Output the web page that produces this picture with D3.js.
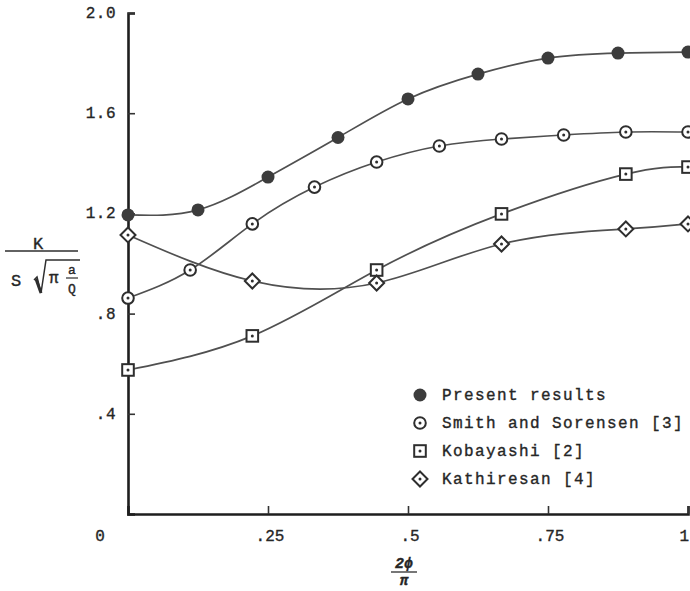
<!DOCTYPE html>
<html>
<head>
<meta charset="utf-8">
<script src="https://cdn.jsdelivr.net/npm/d3@7"></script>
<style>
  body { margin: 0; background: #fff; }
  text { font-family: "Liberation Mono", "DejaVu Sans Mono", monospace; fill: #262626; stroke: #262626; stroke-width: 0.35; }
</style>
</head>
<body>
<script>
// values
const presentX = [0, 0.125, 0.25, 0.375, 0.5, 0.625, 0.75, 0.875, 1];
const presentY = [1.194, 1.214, 1.345, 1.503, 1.657, 1.756, 1.82, 1.840, 1.844];

const smithX = [0, 0.111, 0.222, 0.333, 0.444, 0.556, 0.667, 0.778, 0.889, 1];
const smithY = [0.862, 0.974, 1.158, 1.305, 1.405, 1.469, 1.497, 1.513, 1.525, 1.525];

const kobaX = [0, 0.222, 0.444, 0.667, 0.889, 1];
const kobaY = [0.575, 0.711, 0.974, 1.198, 1.357, 1.385];

const kathX = [0, 0.222, 0.444, 0.667, 0.889, 1];
const kathY = [1.114, 0.930, 0.922, 1.078, 1.138, 1.158];

const xTicks = [0.25, 0.5, 0.75, 1];
const xTickLabels = [".25", ".5", ".75", "1"];
const yTicks = [0.4, 0.8, 1.2, 1.6, 2.0];
const yTickLabels = [".4", ".8", "1.2", "1.6", "2.0"];

const legendNames = ["Present results", "Smith and Sorensen [3]", "Kobayashi [2]", "Kathiresan [4]"];

const width = 690, height = 591;

const x = d3.scaleLinear().domain([0, 1]).range([128, 688]);
const y = d3.scaleLinear().domain([0, 2]).range([514, 13]);

const svg = d3.select("body").append("svg")
  .attr("width", width).attr("height", height)
  .attr("viewBox", [0, 0, width, height]);

const ink = "#2e2e2e";

// curves
const series = [
  {xs: presentX, ys: presentY, mark: "filled"},
  {xs: smithX, ys: smithY, mark: "circle"},
  {xs: kobaX, ys: kobaY, mark: "square"},
  {xs: kathX, ys: kathY, mark: "diamond"}
];

const line = d3.line()
  .x(d => x(d[0]))
  .y(d => y(d[1]))
  .curve(d3.curveNatural);

series.forEach(s => {
  const pts = s.xs.map((v, i) => [v, s.ys[i]]);
  svg.append("path")
    .datum(pts)
    .attr("d", line)
    .attr("fill", "none")
    .attr("stroke", "#505050")
    .attr("stroke-width", 1.7);
});

// axes
const xAxis = svg.append("g").attr("transform", `translate(0,${y(0)})`)
  .call(d3.axisBottom(x).tickValues(xTicks).tickSize(-8).tickFormat(""));
const yAxis = svg.append("g").attr("transform", `translate(${x(0)},0)`)
  .call(d3.axisLeft(y).tickValues(yTicks).tickSize(-7).tickFormat(""));
[xAxis, yAxis].forEach(a => {
  a.select(".domain").attr("stroke", "#1e1e1e").attr("stroke-width", 2.6);
  a.selectAll(".tick line").attr("stroke", "#333").attr("stroke-width", 1.6);
});

svg.selectAll(".xlab")
  .data(xTicks)
  .join("text")
  .attr("x", d => x(d))
  .attr("y", 541)
  .attr("text-anchor", (d, i) => i === xTicks.length - 1 ? "end" : "middle")
  .attr("dx", (d, i) => i === xTicks.length - 1 ? 1 : 2)
  .attr("font-size", 16)
  .text((d, i) => xTickLabels[i]);

svg.append("text")
  .attr("x", 100).attr("y", 541)
  .attr("text-anchor", "middle")
  .attr("font-size", 16)
  .text("0");

svg.selectAll(".ylab")
  .data(yTicks)
  .join("text")
  .attr("x", 116)
  .attr("y", d => y(d) + 5)
  .attr("text-anchor", "end")
  .attr("font-size", 16)
  .attr("letter-spacing", 0.5)
  .text((d, i) => yTickLabels[i]);

// markers
function drawMark(g, kind, cx, cy) {
  if (kind === "filled") {
    g.append("circle").attr("cx", cx).attr("cy", cy).attr("r", 6.5)
      .attr("fill", "#3c3c3c");
  } else {
    if (kind === "circle") {
      g.append("circle").attr("cx", cx).attr("cy", cy).attr("r", 5.8);
    } else if (kind === "square") {
      g.append("rect").attr("x", cx - 5.8).attr("y", cy - 5.8)
        .attr("width", 11.6).attr("height", 11.6);
    } else {
      g.append("path")
        .attr("d", `M${cx},${cy - 7.5}L${cx + 7.5},${cy}L${cx},${cy + 7.5}L${cx - 7.5},${cy}Z`);
    }
    g.selectAll("circle,rect,path").attr("fill", "#fff").attr("stroke", ink).attr("stroke-width", 2);
    g.append("circle").attr("class", "dot").attr("cx", cx).attr("cy", cy).attr("r", 1.5).attr("fill", ink);
  }
}

series.forEach(s => {
  s.xs.forEach((v, i) => {
    drawMark(svg.append("g"), s.mark, x(v), y(s.ys[i]));
  });
});

// legend
legendNames.forEach((name, i) => {
  const ly = 395 + i * 28;
  drawMark(svg.append("g"), series[i].mark, 420, ly);
  svg.append("text")
    .attr("x", 442).attr("y", ly + 5)
    .attr("font-size", 16)
    .attr("letter-spacing", 1.4)
    .text(name);
});

// y label:  K / (S sqrt(pi a/Q))
const yl = svg.append("g");
yl.append("text").attr("x", 38).attr("y", 249).attr("text-anchor", "middle")
  .attr("font-size", 17).text("K");
yl.append("line").attr("x1", 5).attr("x2", 78).attr("y1", 251).attr("y2", 251)
  .attr("stroke", ink).attr("stroke-width", 1.4);
yl.append("text").attr("x", 11).attr("y", 286).attr("font-size", 17).text("S");
yl.append("path")
  .attr("d", "M34,280 L37,277 L41,293 L46,260 L80,260")
  .attr("fill", "none").attr("stroke", ink).attr("stroke-width", 1.5);
yl.append("path")
  .attr("d", "M36,279 L41,293")
  .attr("fill", "none").attr("stroke", ink).attr("stroke-width", 3);
yl.append("text").attr("x", 49).attr("y", 283).attr("font-size", 16)
  .attr("font-family", "DejaVu Serif").attr("stroke-width", 0).text("π");
yl.append("text").attr("x", 72).attr("y", 274).attr("text-anchor", "middle")
  .attr("font-size", 13).text("a");
yl.append("line").attr("x1", 66).attr("x2", 78).attr("y1", 278).attr("y2", 278)
  .attr("stroke", ink).attr("stroke-width", 1.2);
yl.append("text").attr("x", 72).attr("y", 293).attr("text-anchor", "middle")
  .attr("font-size", 13).text("Q");

// x label: 2phi / pi
const xl = svg.append("g");
xl.append("text").attr("x", 404).attr("y", 568).attr("text-anchor", "middle")
  .attr("font-size", 15).attr("font-weight", "bold").attr("font-style", "italic").text("2ϕ");
xl.append("line").attr("x1", 391).attr("x2", 417).attr("y1", 572).attr("y2", 572)
  .attr("stroke", ink).attr("stroke-width", 1.3);
xl.append("text").attr("x", 404).attr("y", 585).attr("text-anchor", "middle")
  .attr("font-size", 14).attr("font-family", "DejaVu Serif").attr("font-style", "italic")
  .attr("font-weight", "bold").text("π");
</script>
</body>
</html>
